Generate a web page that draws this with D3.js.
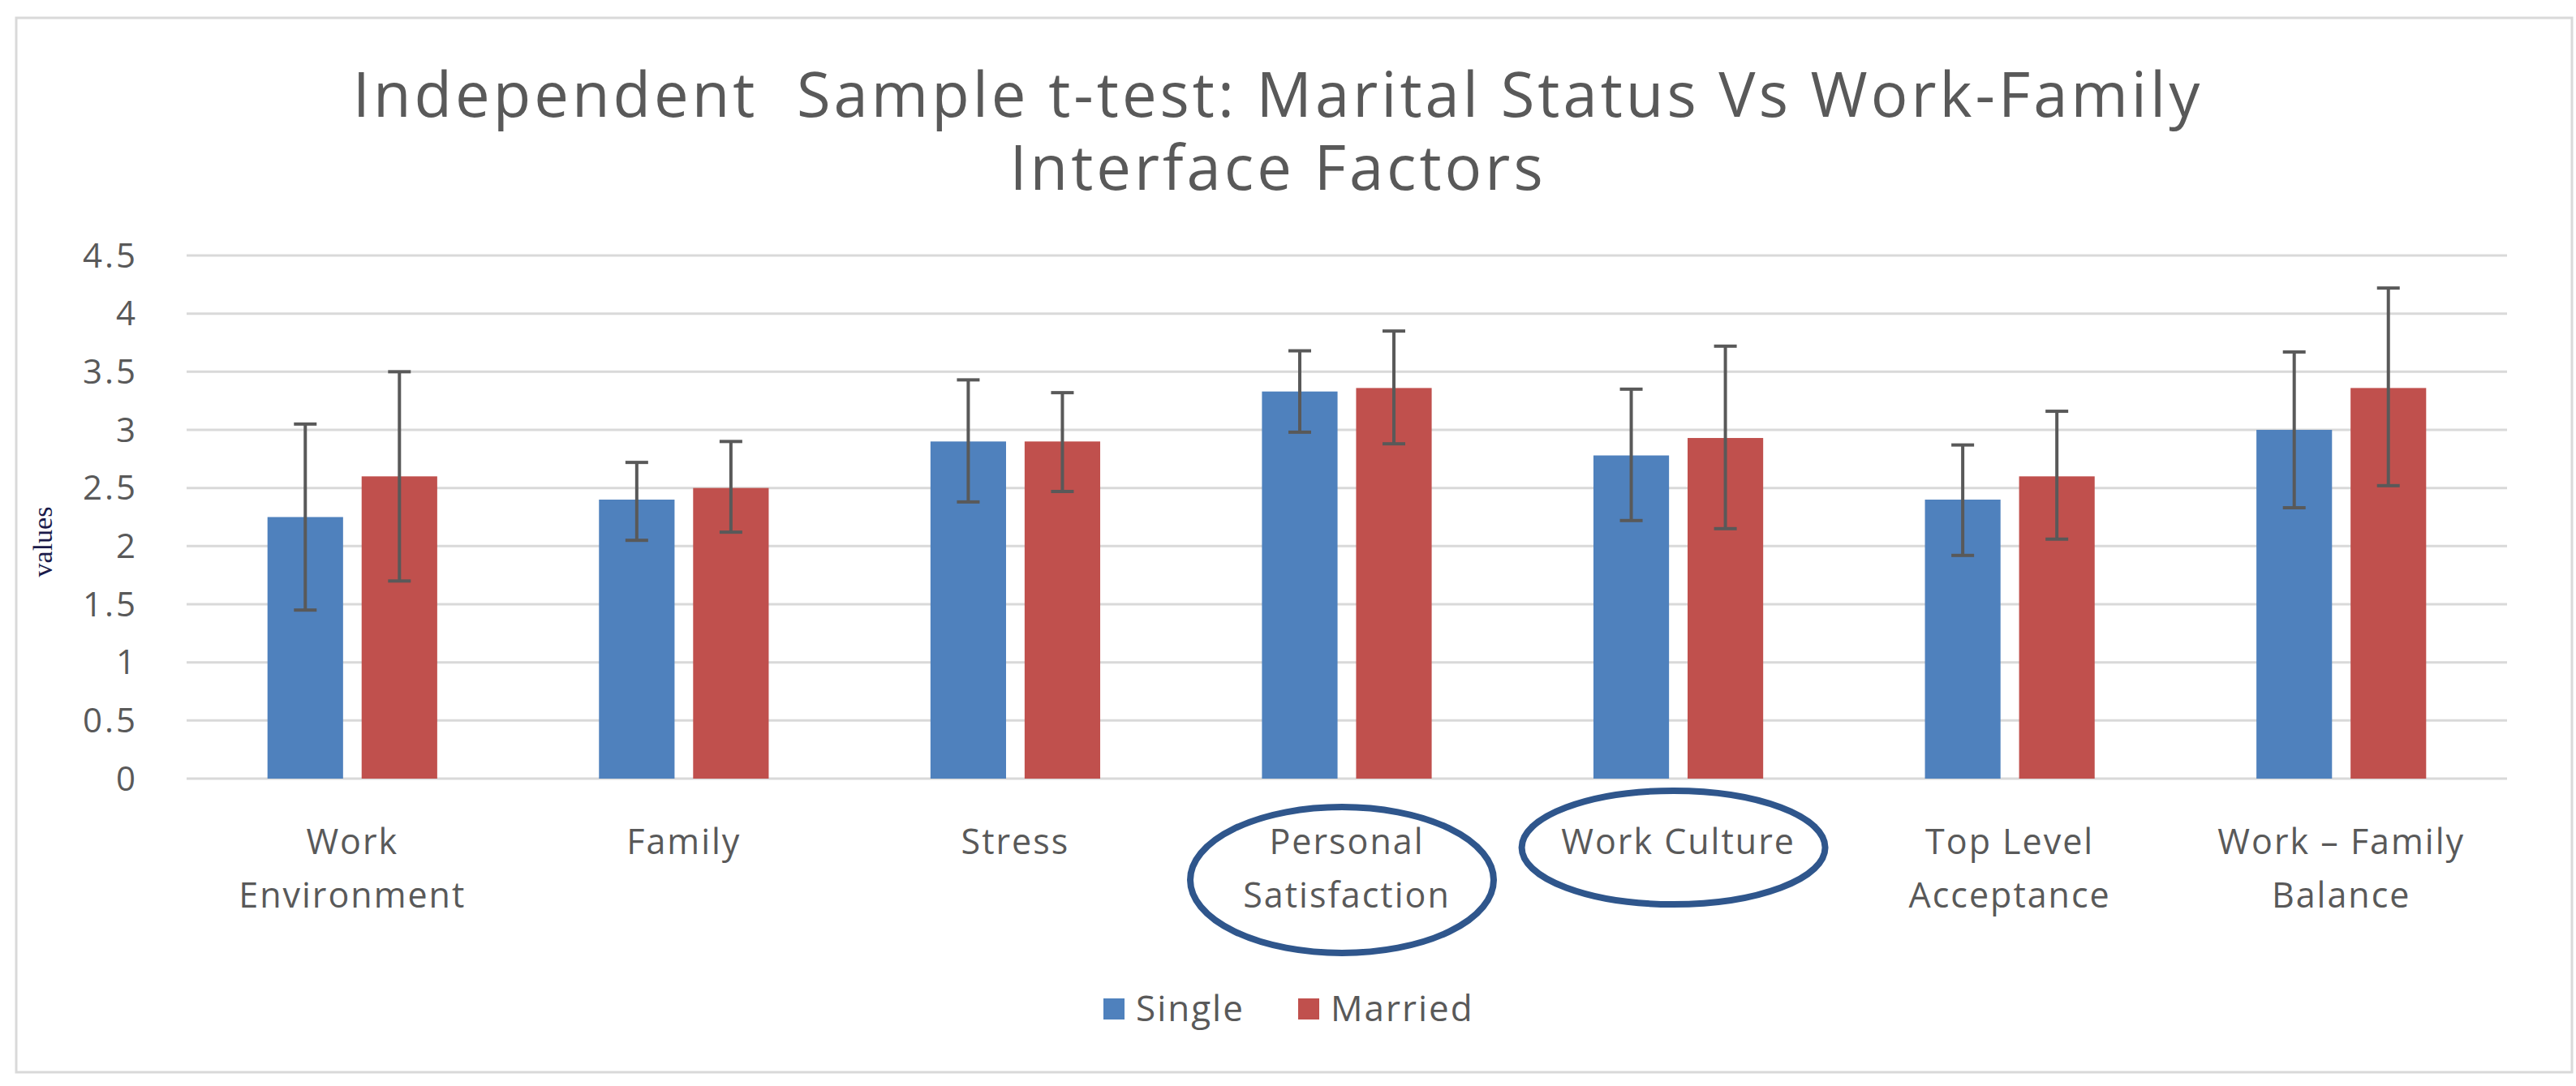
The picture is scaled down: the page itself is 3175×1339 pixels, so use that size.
<!DOCTYPE html>
<html><head><meta charset="utf-8">
<script src="https://cdn.jsdelivr.net/npm/d3@7"></script>
<style>body{margin:0;background:#fff}svg text{font-family:"Open Sans","Noto Sans",sans-serif}</style>
</head><body><svg id="c" width="3175" height="1339"></svg>
<script>
const categories = [["Work","Environment"],["Family"],["Stress"],["Personal","Satisfaction"],["Work Culture"],["Top Level","Acceptance"],["Work \u2013 Family","Balance"]];
const seriesNames = ["Single","Married"];
const single = [2.25,2.4,2.9,3.33,2.78,2.4,3.0];
const married = [2.6,2.5,2.9,3.36,2.93,2.6,3.36];
const singleLow = [1.45,2.05,2.38,2.98,2.22,1.92,2.33];
const singleHigh = [3.05,2.72,3.43,3.68,3.35,2.87,3.67];
const marriedLow = [1.7,2.12,2.47,2.88,2.15,2.06,2.52];
const marriedHigh = [3.5,2.9,3.32,3.85,3.72,3.16,4.22];
const yTicks = [0,0.5,1,1.5,2,2.5,3,3.5,4,4.5];
const circled = [3,4];
const colors = ["#4f81bd","#c0504d"];

const svg = d3.select("#c");
svg.append("rect").attr("x",20).attr("y",22).attr("width",3150).attr("height",1300).attr("fill","#fff").attr("stroke","#d9d9d9").attr("stroke-width",3);
const L=230,R=3090,T=315,B=960;
const x = d3.scaleBand().domain(d3.range(categories.length)).range([L,R]);
const y = d3.scaleLinear().domain([0,4.5]).range([B,T]);
const bw = x.bandwidth()*0.228, gap = x.bandwidth()*0.056;

svg.append("g").selectAll("line").data(yTicks).join("line")
 .attr("x1",L).attr("x2",R).attr("y1",d=>y(d)).attr("y2",d=>y(d)).attr("stroke","#d9d9d9").attr("stroke-width",3);
svg.append("g").selectAll("text").data(yTicks).join("text")
 .attr("x",170).attr("y",d=>y(d)).attr("dy","0.35em").attr("text-anchor","end").attr("font-size",42).attr("letter-spacing",3).attr("fill","#595959").text(d=>d);
svg.append("text").attr("transform","translate(64,668) rotate(-90)").attr("text-anchor","middle").style("font-family","'Liberation Serif',serif").attr("font-size",34).attr("fill","#1a1a4a").text("values");

const sets=[[single,singleLow,singleHigh],[married,marriedLow,marriedHigh]];
sets.forEach((s,k)=>{
  const cx=i=>x(i)+x.bandwidth()/2+(k===0?-1:1)*(gap/2+bw/2);
  const g=svg.append("g");
  g.selectAll("rect").data(s[0]).join("rect").attr("x",(d,i)=>cx(i)-bw/2).attr("width",bw).attr("y",d=>y(d)).attr("height",d=>B-y(d)).attr("fill",colors[k]);
  s[0].forEach((d,i)=>{
    const c=cx(i), lo=y(s[1][i]), hi=y(s[2][i]);
    g.append("line").attr("x1",c).attr("x2",c).attr("y1",lo).attr("y2",hi).attr("stroke","#595959").attr("stroke-width",4);
    [lo,hi].forEach(v=>g.append("line").attr("x1",c-14).attr("x2",c+14).attr("y1",v).attr("y2",v).attr("stroke","#595959").attr("stroke-width",4));
  });
});

const cl=svg.append("g");
categories.forEach((lines,i)=>{
  const t=cl.append("text").attr("x",x(i)+x.bandwidth()/2).attr("text-anchor","middle").attr("font-size",43).attr("letter-spacing",2).attr("fill","#595959");
  lines.forEach((ln,j)=>t.append("tspan").attr("x",x(i)+x.bandwidth()/2).attr("y",1053+j*66).text(ln));
});
const ell=[{rx:187,ry:90,cy:1085},{rx:187,ry:70,cy:1045}];
circled.forEach((i,k)=>{
  svg.append("ellipse").attr("cx",x(i)+x.bandwidth()/2-6).attr("cy",ell[k].cy).attr("rx",ell[k].rx).attr("ry",ell[k].ry).attr("fill","none").attr("stroke","#2f568c").attr("stroke-width",8);
});

svg.append("text").attr("x",1575).attr("y",144).attr("text-anchor","middle").attr("font-size",76).attr("letter-spacing",4).attr("fill","#595959").text("Independent\u00a0\u00a0Sample t-test: Marital Status Vs Work-Family");
svg.append("text").attr("x",1575).attr("y",234).attr("text-anchor","middle").attr("font-size",76).attr("letter-spacing",4).attr("fill","#595959").text("Interface Factors");

const lg=[{x:1360},{x:1600}];
seriesNames.forEach((n,k)=>{
  svg.append("rect").attr("x",lg[k].x).attr("y",1231).attr("width",26).attr("height",26).attr("fill",colors[k]);
  svg.append("text").attr("x",lg[k].x+40).attr("y",1244).attr("dy","0.35em").attr("font-size",44).attr("letter-spacing",2).attr("fill","#595959").text(n);
});
</script></body></html>
